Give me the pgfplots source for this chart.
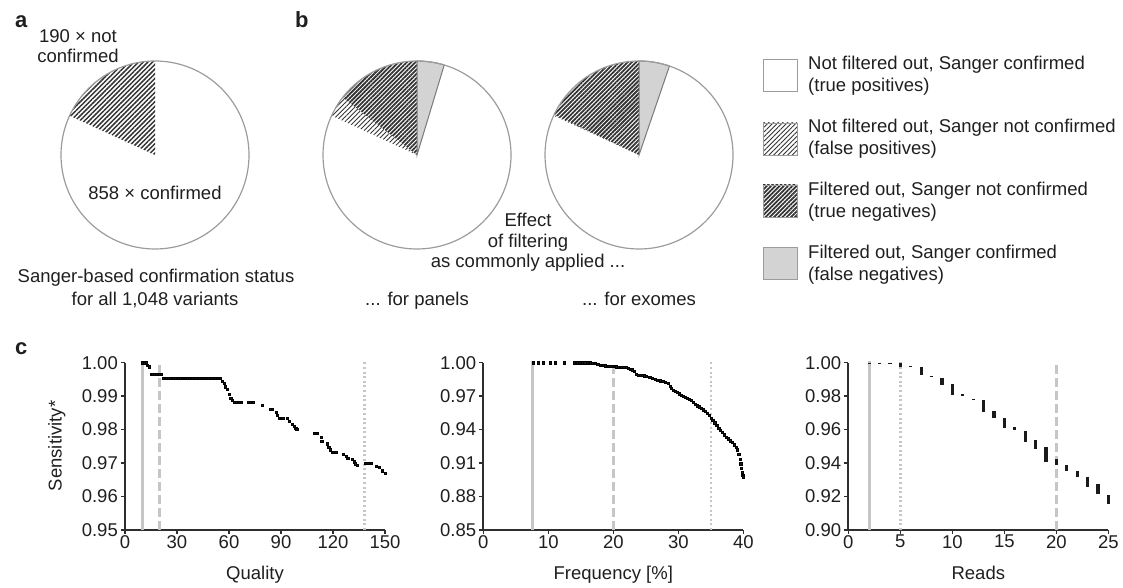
\documentclass[border=0pt]{standalone}
\usepackage{pgfplots}
\pgfplotsset{compat=1.18}
\usepackage{fontspec}
\setmainfont{Liberation Sans}
\usetikzlibrary{patterns.meta}
\definecolor{txt}{HTML}{1F1F1F}
\definecolor{axisc}{HTML}{2E2E2E}
\definecolor{vline}{HTML}{C6C6C6}
\definecolor{pieedge}{HTML}{9C9C9C}
\definecolor{fngray}{HTML}{D3D3D3}
\definecolor{fnedge}{HTML}{7A7A7A}
\definecolor{hatchc}{HTML}{333333}
\definecolor{dotc}{HTML}{1A1A1A}
\newcommand\fs{\fontsize{18.5}{22}\selectfont}
\newcommand\fb{\fontsize{22}{24}\selectfont\bfseries}
\tikzset{
  lighthatch/.style={pattern={Lines[angle=45,distance=3.3pt,line width=0.9pt]},pattern color=hatchc},
  medhatch/.style={pattern={Lines[angle=45,distance=3.3pt,line width=1.5pt]},pattern color=hatchc},
  darkhatch/.style={pattern={Lines[angle=45,distance=3.0pt,line width=1.8pt]},pattern color=hatchc},
  lbl/.style={anchor=base, inner sep=0pt, font=\fs, text=txt},
  lblw/.style={anchor=base west, inner sep=0pt, font=\fs, text=txt},
}
\pgfplotsset{
  /pgf/number format/assume math mode=true,
  piestyle/.style={anchor=center, width=188pt, height=188pt, scale only axis,
    xmin=-1,xmax=1,ymin=-1,ymax=1, hide axis, clip=false},
  sens/.style={anchor=south west, scale only axis, width=260pt, height=167.3pt,
    axis x line*=bottom, axis y line*=left,
    axis line style={-, line width=2.2pt, color=axisc},
    tick style={color=axisc, line width=1.5pt}, major tick length=4pt,
    tick align=outside,
    tick label style={font=\fs, text=txt},
    xticklabel style={inner sep=0pt, yshift=-1pt},
    yticklabel style={inner sep=0pt, xshift=-3pt, /pgf/number format/.cd, fixed, fixed zerofill, precision=2},
    xlabel style={font=\fs, text=txt, at={(axis description cs:0.5,0)}, anchor=base, yshift=-49pt},
    clip=false, unbounded coords=jump,
  },
  solidv/.style={vline, line width=3pt},
  dashv/.style={vline, line width=3pt, dash pattern=on 9pt off 4pt},
  dotv/.style={vline, line width=2.6pt, dash pattern=on 2pt off 2.6pt},
  dotsplot/.style={only marks, mark=square*, mark size=1.1pt, mark options={draw=none, fill=dotc}},
}
% pie counts (of 1,048 variants)
\newcommand\Total{1048}
\newcommand\NotConf{190}
\newcommand\PanTN{152}\newcommand\PanFP{38}\newcommand\PanFN{49}
\newcommand\ExoTN{188}\newcommand\ExoFP{2}\newcommand\ExoFN{55}

\pgfplotstableread{
q s
10 1.0000
11 1.0000
12 1.0000
13 0.9993
13.8 0.9988
15 0.9966
16 0.9966
17 0.9966
18 0.9966
19 0.9966
20 0.9966
21 0.9966
22 0.9953
23 0.9953
24 0.9953
25 0.9953
26 0.9953
27 0.9953
28 0.9953
29 0.9953
30 0.9953
31 0.9953
32 0.9953
33 0.9953
34 0.9953
35 0.9953
36 0.9953
37 0.9953
38 0.9953
39 0.9953
40 0.9953
41 0.9953
43 0.9953
44 0.9953
45 0.9953
46 0.9953
47 0.9953
48 0.9953
49 0.9953
50 0.9953
51 0.9953
52 0.9953
53 0.9953
54 0.9953
55 0.9953
56 0.9945
57 0.9938
58 0.9928
59 0.9920
60 0.9905
61 0.9895
62 0.9888
63 0.9883
64 0.9883
66 0.9883
67 0.9883
71 0.9883
72 0.9883
74 0.9883
79 0.9874
84 0.9862
85 0.9862
87 0.9852
88 0.9842
89 0.9834
90 0.9834
91 0.9834
93.5 0.9834
94.5 0.9826
96.5 0.9816
97.5 0.9810
98.5 0.9804
99 0.9801
109 0.9789
110 0.9789
111 0.9789
113 0.9777
113.5 0.9766
116.5 0.9758
117.5 0.9748
118.5 0.9740
119.5 0.9733
120.5 0.9733
121.5 0.9733
126 0.9726
127.5 0.9720
128.5 0.9714
131 0.9711
132 0.9704
133 0.9698
134 0.9693
138.5 0.9699
140 0.9699
142 0.9699
145 0.9690
146.5 0.9687
148.5 0.9677
150 0.9670
}\qualitydata

\pgfplotstableread{
f s
7.7 1.0000
8.5 1.0000
9.2 1.0000
10.3 1.0000
11.0 1.0000
12.5 1.0000
14.0 1.0000
14.4 1.0000
14.8 1.0000
15.2 1.0000
15.6 1.0000
16.0 1.0000
16.4 1.0000
16.8 0.9998
17.2 0.9992
17.6 0.9985
18.0 0.9976
18.4 0.9974
18.8 0.9973
19.2 0.9972
19.6 0.9970
20.0 0.9966
20.4 0.9965
20.8 0.9963
21.2 0.9962
21.6 0.9960
22.0 0.9958
22.3 0.9950
22.6 0.9945
22.9 0.9938
23.2 0.9925
23.5 0.9900
23.8 0.9888
24.1 0.9885
24.4 0.9885
24.7 0.9884
25.0 0.9882
25.6 0.9868
26.0 0.9860
26.4 0.9852
26.8 0.9843
27.2 0.9838
27.6 0.9832
28.0 0.9826
28.4 0.9818
28.7 0.9790
28.9 0.9770
29.2 0.9755
29.5 0.9742
29.8 0.9735
30.1 0.9722
30.4 0.9712
30.8 0.9700
31.1 0.9692
31.4 0.9680
31.7 0.9672
32.0 0.9665
32.3 0.9648
32.6 0.9628
32.9 0.9615
33.2 0.9605
33.5 0.9592
33.8 0.9578
34.1 0.9565
34.4 0.9548
34.7 0.9530
35.0 0.9505
35.3 0.9485
35.6 0.9462
35.9 0.9440
36.2 0.9415
36.5 0.9395
36.8 0.9378
37.1 0.9355
37.4 0.9335
37.7 0.9318
38.0 0.9300
38.3 0.9285
38.6 0.9265
38.9 0.9245
39.1 0.9220
39.3 0.9180
39.5 0.9135
39.6 0.9095
39.7 0.9055
39.8 0.9015
39.9 0.8990
40.0 0.8978
}\freqdata

\pgfplotstableread{
r s
2 1.0000
2 0.9995
2.5 nan
3 1.0000
3 0.9995
3.5 nan
4 1.0000
4 0.9995
4.5 nan
5 1.0000
5 0.9972
5.5 nan
6 0.9978
6 0.9972
6.5 nan
7 0.9976
7 0.9926
7.5 nan
8 0.9922
8 0.9915
8.5 nan
9 0.9906
9 0.9867
9.5 nan
10 0.9873
10 0.9807
10.5 nan
11 0.9810
11 0.9803
11.5 nan
12 0.9783
12 0.9776
12.5 nan
13 0.9777
13 0.9707
13.5 nan
14 0.9710
14 0.9667
14.5 nan
15 0.9667
15 0.9608
15.5 nan
16 0.9617
16 0.9600
16.5 nan
17 0.9590
17 0.9528
17.5 nan
18 0.9538
18 0.9482
18.5 nan
19 0.9498
19 0.9408
19.5 nan
20 0.9422
20 0.9388
20.5 nan
21 0.9388
21 0.9353
21.5 nan
22 0.9353
22 0.9319
22.5 nan
23 0.9319
23 0.9259
23.5 nan
24 0.9275
24 0.9215
24.5 nan
25 0.9209
25 0.9155
}\readsdata

\begin{document}
\begin{tikzpicture}
\path[use as bounding box] (0pt,0pt) rectangle (1123pt,588pt);
\pgfmathsetmacro{\angA}{90+360*(\NotConf/\Total)}
\pgfmathsetmacro{\angPFN}{90-360*(\PanFN/\Total)}
\pgfmathsetmacro{\angPTN}{90+360*(\PanTN/\Total)}
\pgfmathsetmacro{\angPFP}{\angPTN+360*(\PanFP/\Total)}
\pgfmathsetmacro{\angEFN}{90-360*(\ExoFN/\Total)}
\pgfmathsetmacro{\angETN}{90+360*(\ExoTN/\Total)}
\pgfmathsetmacro{\angEFP}{\angETN+360*(\ExoFP/\Total)}

% ---------- panel a pie
\begin{axis}[piestyle, at={(155pt,433pt)}]
\fill[white] (axis cs:0,0) circle[radius=94pt];
\fill[medhatch] (axis cs:0,0) -- ++(90:94pt) arc[start angle=90,end angle=\angA,radius=94pt] -- cycle;
\draw[pieedge, line width=1.2pt] (axis cs:0,0) circle[radius=94pt];
\end{axis}

% ---------- panel b pies
\begin{axis}[piestyle, at={(417pt,433pt)}]
\fill[white] (axis cs:0,0) circle[radius=94pt];
\fill[darkhatch] (axis cs:0,0) -- ++(90:94pt) arc[start angle=90,end angle=\angPTN,radius=94pt] -- cycle;
\fill[lighthatch] (axis cs:0,0) -- ++(\angPTN:94pt) arc[start angle=\angPTN,end angle=\angPFP,radius=94pt] -- cycle;
\filldraw[fill=fngray, draw=fnedge, line width=1pt] (axis cs:0,0) -- ++(\angPFN:94pt) arc[start angle=\angPFN,end angle=90,radius=94pt] -- cycle;
\draw[pieedge, line width=1.2pt] (axis cs:0,0) circle[radius=94pt];
\end{axis}

\begin{axis}[piestyle, at={(639pt,433pt)}]
\fill[white] (axis cs:0,0) circle[radius=94pt];
\fill[darkhatch] (axis cs:0,0) -- ++(90:94pt) arc[start angle=90,end angle=\angETN,radius=94pt] -- cycle;
\fill[lighthatch] (axis cs:0,0) -- ++(\angETN:94pt) arc[start angle=\angETN,end angle=\angEFP,radius=94pt] -- cycle;
\filldraw[fill=fngray, draw=fnedge, line width=1pt] (axis cs:0,0) -- ++(\angEFN:94pt) arc[start angle=\angEFN,end angle=90,radius=94pt] -- cycle;
\draw[pieedge, line width=1.2pt] (axis cs:0,0) circle[radius=94pt];
\end{axis}

% ---------- texts top
\node[anchor=base west, inner sep=0pt, font=\fb, text=txt] at (15pt,560pt) {a};
\node[anchor=base west, inner sep=0pt, font=\fb, text=txt] at (295pt,560pt) {b};
\node[anchor=base west, inner sep=0pt, font=\fb, text=txt] at (15pt,233pt) {c};
\node[lbl] at (78pt,545pt) {190 × not};
\node[lbl] at (78pt,525pt) {confirmed};
\node[lbl] at (155pt,388pt) {858 × confirmed};
\node[lbl] at (156pt,305pt) {Sanger-based confirmation status};
\node[lbl] at (155pt,282pt) {for all 1,048 variants};
\node[lbl] at (528pt,361pt) {Effect};
\node[lbl] at (528pt,340pt) {of filtering};
\node[lbl] at (528pt,320pt) {as commonly applied ...};
\node[lbl] at (417pt,282pt) {... for panels};
\node[lbl] at (639pt,282pt) {... for exomes};

% ---------- legend
\draw[pieedge, line width=1pt, fill=white] (763pt,528pt) rectangle (797pt,496pt);
\draw[pieedge, line width=0.6pt, lighthatch] (763pt,465pt) rectangle (797pt,433pt);
\draw[pieedge, line width=0.6pt, darkhatch] (763pt,403pt) rectangle (797pt,371pt);
\draw[pieedge, line width=1pt, fill=fngray] (763pt,340pt) rectangle (797pt,308pt);
\node[lblw] at (808pt,518pt) {Not filtered out, Sanger confirmed};
\node[lblw] at (808pt,496pt) {(true positives)};
\node[lblw] at (808pt,455pt) {Not filtered out, Sanger not confirmed};
\node[lblw] at (808pt,433pt) {(false positives)};
\node[lblw] at (808pt,392pt) {Filtered out, Sanger not confirmed};
\node[lblw] at (808pt,370pt) {(true negatives)};
\node[lblw] at (808pt,329pt) {Filtered out, Sanger confirmed};
\node[lblw] at (808pt,307pt) {(false negatives)};

% ---------- panel c
\node[rotate=90, anchor=base, inner sep=0pt, font=\fs, text=txt] at (61.5pt,142pt) {Sensitivity*};

\begin{axis}[sens, at={(125pt,58pt)}, xmin=0, xmax=150, ymin=0.95, ymax=1.0,
  xtick={0,30,60,90,120,150}, ytick={0.95,0.96,0.97,0.98,0.99,1.00}, xlabel={Quality}]
\addplot[solidv] coordinates {(10,0.95) (10,1.0005)};
\addplot[dashv] coordinates {(20,0.95) (20,1.0005)};
\addplot[dotv] coordinates {(138,0.95) (138,1.0005)};
\addplot[dotsplot] table[x=q,y=s] {\qualitydata};
\end{axis}

\begin{axis}[sens, at={(483.3pt,58pt)}, xmin=0, xmax=40, ymin=0.85, ymax=1.0,
  xtick={0,10,20,30,40}, ytick={0.85,0.88,0.91,0.94,0.97,1.00}, xlabel={Frequency [\%]}]
\addplot[solidv] coordinates {(7.5,0.85) (7.5,1.0015)};
\addplot[dashv] coordinates {(20,0.85) (20,1.0015)};
\addplot[dotv] coordinates {(35,0.85) (35,1.0015)};
\addplot[dotsplot] table[x=f,y=s] {\freqdata};
\end{axis}

\begin{axis}[sens, at={(848.3pt,58pt)}, xmin=0, xmax=25, ymin=0.90, ymax=1.0,
  xtick={0,5,10,15,20,25}, ytick={0.90,0.92,0.94,0.96,0.98,1.00}, xlabel={Reads}]
\addplot[solidv] coordinates {(2,0.90) (2,1.001)};
\addplot[dotv] coordinates {(5,0.90) (5,1.001)};
\addplot[dashv] coordinates {(20,0.90) (20,1.001)};
\addplot[dotc, line width=3.2pt, line cap=butt, mark=none] table[x=r,y=s] {\readsdata};
\end{axis}
\end{tikzpicture}
\end{document}
